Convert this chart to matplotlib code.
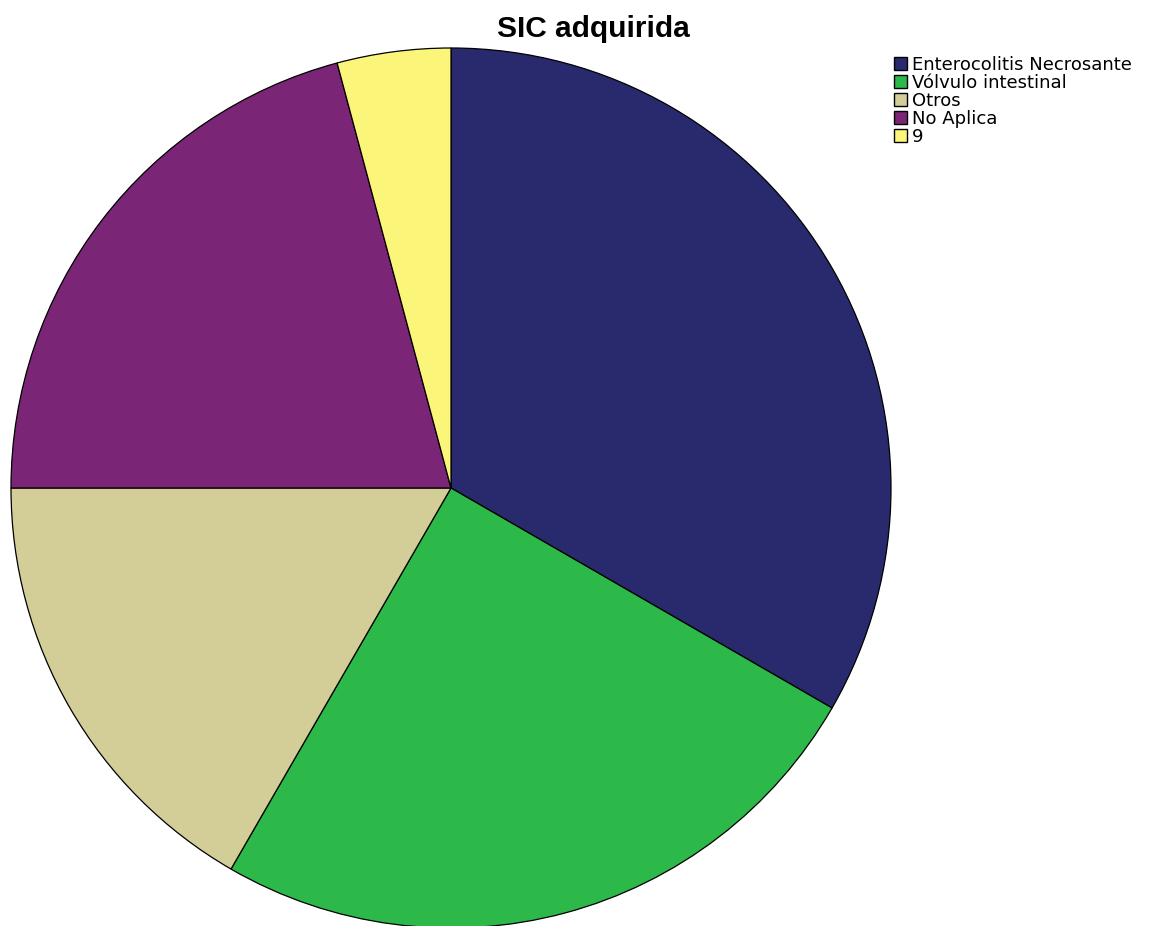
import matplotlib
matplotlib.use("Agg")
import matplotlib.pyplot as plt
from matplotlib.patches import Patch

plt.rcParams.update({
    "font.family": "sans-serif",
    "font.sans-serif": ["Liberation Sans", "DejaVu Sans"],
})

# Case counts per acquired SIC cause
categories = ["Enterocolitis Necrosante", "Vólvulo intestinal", "Otros", "No Aplica", "9"]
counts = [8, 6, 4, 5, 1]
colors = ["#29296e", "#2db84a", "#d3cd98", "#7b2577", "#fbf67a"]

W, H = 1151, 926
fig = plt.figure(figsize=(W / 100, H / 100), dpi=100)

# pie centre (451, 488) px, radius 440 px
cx, cy, r = 451, 488, 440
ax = fig.add_axes([(cx - r) / W, (H - cy - r) / H, 2 * r / W, 2 * r / H])
ax.pie(counts, colors=colors, startangle=90, counterclock=False, radius=1.0,
       wedgeprops={"edgecolor": "black", "linewidth": 0.9})
ax.set_xlim(-1, 1)
ax.set_ylim(-1, 1)
ax.set_aspect("equal")
ax.axis("off")

fig.text(593 / W, 1 - 29 / H, "SIC adquirida", ha="center", va="center",
         fontsize=21.5, fontweight="bold")

handles = [Patch(facecolor=c, edgecolor="black", linewidth=1.0) for c in colors]
fig.legend(handles, categories, loc="upper left",
           bbox_to_anchor=(894 / W, 1 - 56 / H), frameon=False,
           prop={"family": "DejaVu Sans", "size": 13},
           handlelength=0.72, handleheight=0.72,
           handletextpad=0.25, labelspacing=0.0, borderpad=0, borderaxespad=0)

fig.savefig("out.png", dpi=100)
